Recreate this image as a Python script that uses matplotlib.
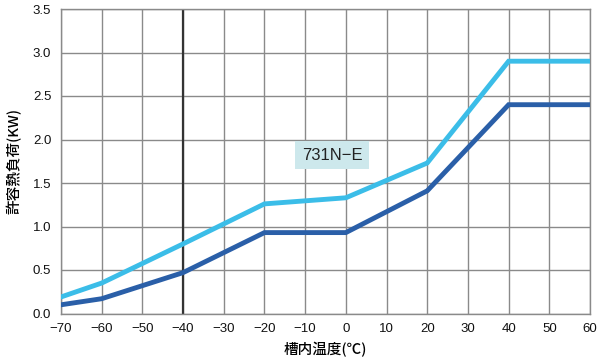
import matplotlib
matplotlib.use("Agg")
import matplotlib.pyplot as plt

plt.rcParams['font.family'] = ['Liberation Sans', 'Noto Sans CJK JP', 'DejaVu Sans']

temps = [-70, -60, -40, -20, 0, 20, 40, 60]
light = [0.19, 0.35, 0.80, 1.26, 1.33, 1.73, 2.90, 2.90]
dark = [0.10, 0.17, 0.47, 0.93, 0.93, 1.41, 2.40, 2.40]
xticks = list(range(-70, 61, 10))
yticks = [0.0, 0.5, 1.0, 1.5, 2.0, 2.5, 3.0, 3.5]
xlabel = "槽内温度(℃)"
ylabel = "許容熱負荷(KW)"
label = "731N−E"

fig = plt.figure(figsize=(5.99, 3.59), dpi=100)
ax = fig.add_axes([61/599, 1-313.5/359, 529/599, 304.5/359])
ax.set_xlim(-70, 60)
ax.set_ylim(0, 3.5)
ax.set_xticks(xticks)
ax.set_yticks(yticks)
ax.set_xticklabels([str(t).replace('-', '−') for t in xticks], fontsize=9.5, color='#111111')
ax.set_yticklabels([f"{t:.1f}" for t in yticks], fontsize=9.5, color='#111111')
ax.tick_params(length=0, pad=7)
ax.grid(True, color='#8a8a8a', linewidth=1.0)
for s in ax.spines.values():
    s.set_color('#8a8a8a')
    s.set_linewidth(1.0)
ax.axvline(-40, color='#333333', linewidth=1.6, zorder=2)
ax.plot(temps, light, color='#3bbde8', linewidth=3.5, zorder=3, solid_joinstyle='miter')
ax.plot(temps, dark, color='#2a5fa8', linewidth=3.5, zorder=3, solid_joinstyle='miter')
ax.text(-3.3, 1.82, label, fontsize=12, ha='center', va='center', color='#222222',
        bbox=dict(boxstyle='square,pad=0.4', facecolor='#cde8ec', edgecolor='none'), zorder=4)
ax.set_xlabel(xlabel, fontsize=10.5, labelpad=5, family=['Noto Sans CJK JP', 'DejaVu Sans'], fontweight='medium')
ax.set_ylabel(ylabel, fontsize=10.5, labelpad=8, family=['Noto Sans CJK JP', 'DejaVu Sans'], fontweight='medium')
fig.savefig("out.png", dpi=100)
